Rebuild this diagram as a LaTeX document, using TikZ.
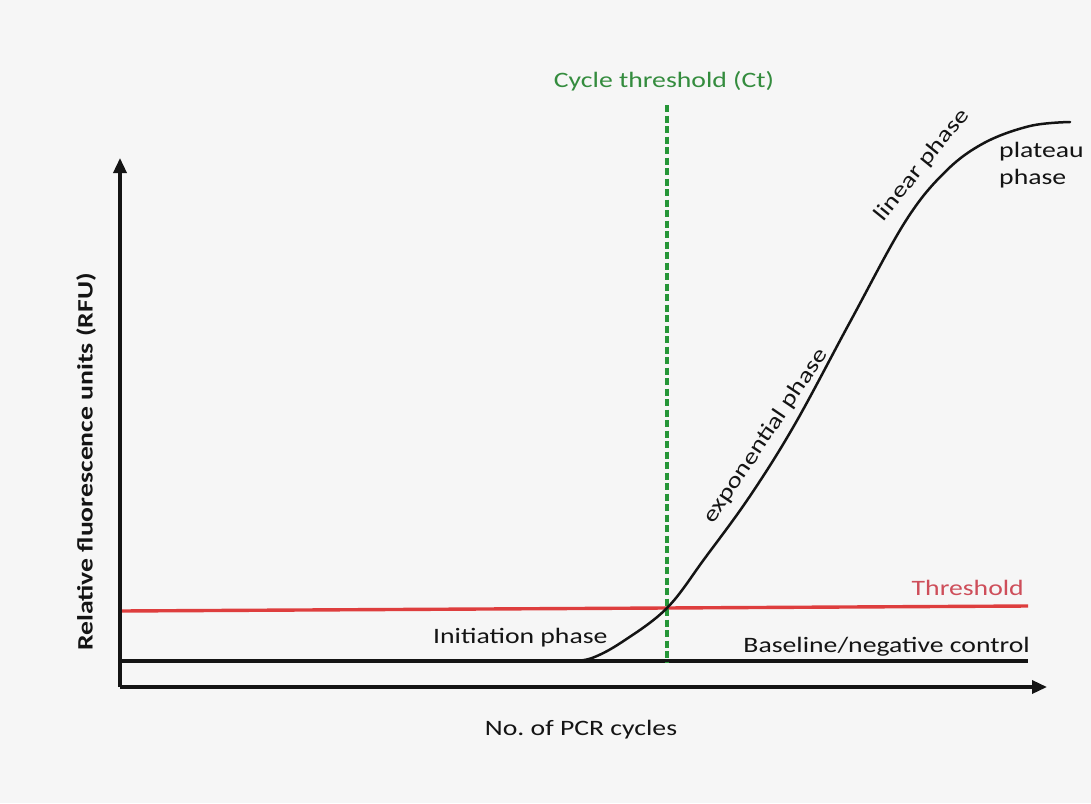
\documentclass[tikz,border=0pt]{standalone}
\usepackage{fontspec}
\setmainfont{Carlito}[FakeStretch=1.26]
\usetikzlibrary{arrows.meta}
\frenchspacing
\definecolor{bg}{RGB}{246,246,246}
\definecolor{ctgreen}{RGB}{38,150,56}
\definecolor{ctgreentext}{RGB}{52,140,62}
\definecolor{thrred}{RGB}{222,62,62}
\definecolor{thrtext}{RGB}{206,78,90}
\definecolor{ink}{RGB}{20,20,20}
\tikzset{
  axis/.style={line width=3.4pt, draw=ink, -{Triangle[length=15pt,width=13pt]}},
  baseln/.style={line width=3.6pt, draw=ink},
  thrln/.style={line width=3.4pt, draw=thrred},
  ctln/.style={line width=3.2pt, draw=ctgreen, dash pattern=on 7pt off 3.5pt},
  curveln/.style={line width=2.5pt, draw=ink},
  lbl/.style={inner sep=0pt, font=\fontsize{22}{26}\selectfont, text=ink},
}
\begin{document}
\begin{tikzpicture}[x=1pt,y=-1pt]
\fill[bg] (0,0) rectangle (1091,803);
\useasboundingbox (0,0) rectangle (1091,803);

% coordinates
\coordinate (O) at (120,687);
\coordinate (ytip) at (120,158);
\coordinate (xtip) at (1047,687);
\coordinate (bl0) at (120,661);
\coordinate (bl1) at (1028,661);
\coordinate (th0) at (120,611);
\coordinate (th1) at (1028,606);
\coordinate (ct0) at (667,105);
\coordinate (ct1) at (667,662);

% lines
\draw[thrln] (th0) -- (th1);
\draw[baseln] (bl0) -- (bl1);
\draw[ctln] (ct0) -- (ct1);
\draw[curveln, line cap=round] plot[smooth, tension=0.6] coordinates {
  (572,661) (592,658) (622,642) (667,608) (705,558) (750,496)
  (795,424) (850,322) (905,222) (945,172) (984,143)
  (1030,126) (1070,122)};
\draw[axis] (O) -- (ytip);
\draw[axis] (O) -- (xtip);

% labels
\node[lbl, text=ctgreentext, anchor=base] (ctlabel) at (664,87) {Cycle threshold (Ct)};
\node[lbl, text=thrtext, anchor=base east] (thrlabel) at (1024,595) {Threshold};
\node[lbl, anchor=base east] (bllabel) at (1030,652) {Baseline/negative control};
\node[lbl, anchor=base west] (initlabel) at (433,643) {Initiation phase};
\node[lbl, anchor=base] (xlabel) at (581,735) {No. of PCR cycles};
\node[lbl, font=\fontsize{22}{26}\selectfont\bfseries, rotate=90] (ylabel) at (86,462) {Relative fluorescence units (RFU)};
\node[lbl, rotate=56] (explabel) at (766,436) {exponential phase};
\node[lbl, rotate=51] (linlabel) at (922,165) {linear phase};
\node[lbl, anchor=base west] (platlabel) at (999,157) {plateau};
\node[lbl, anchor=base west] (platlabel2) at (999,184) {phase};
\end{tikzpicture}
\end{document}
